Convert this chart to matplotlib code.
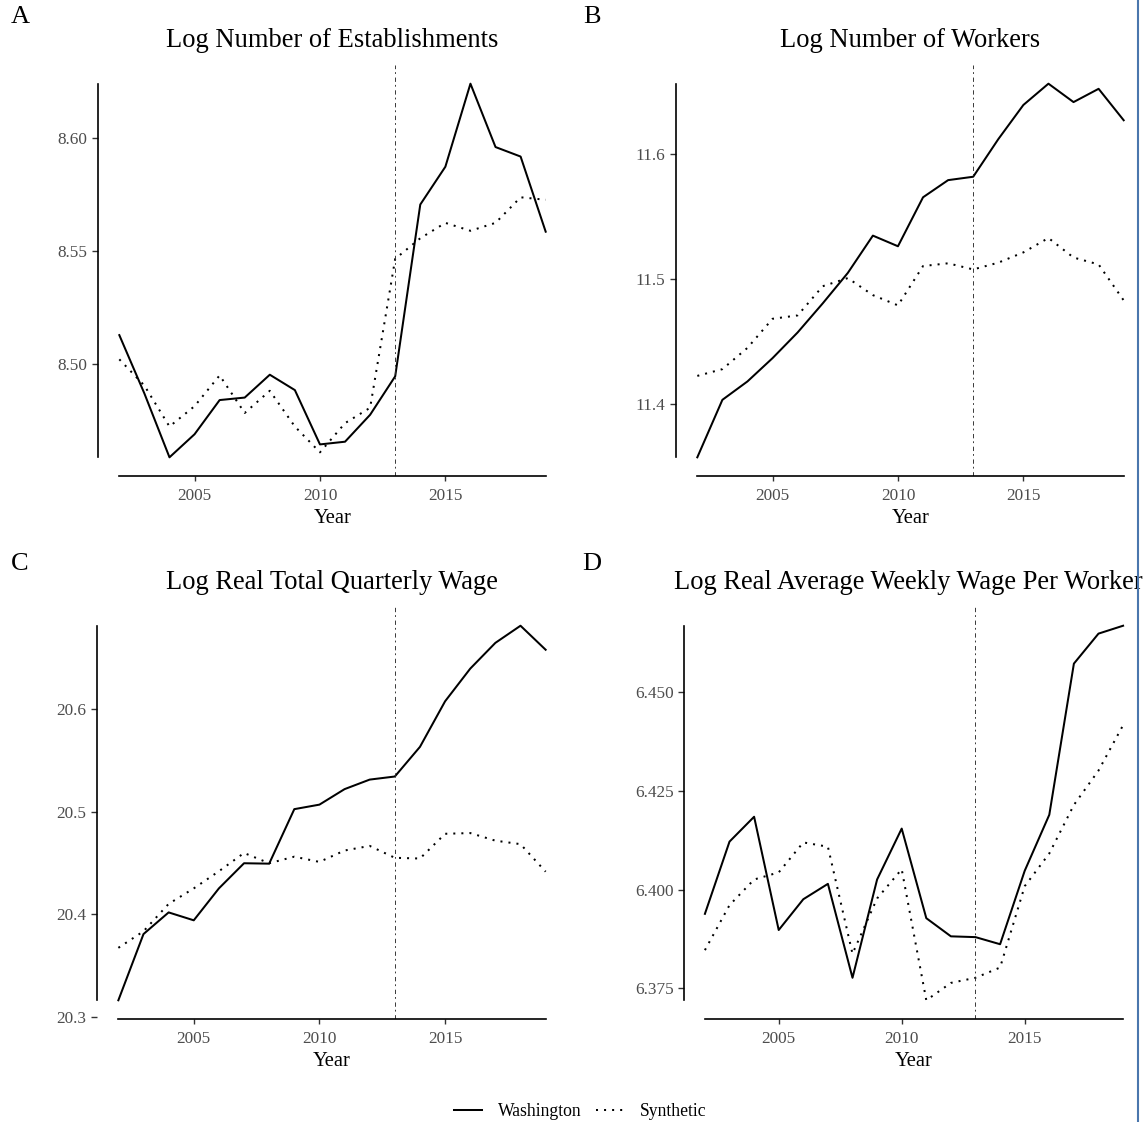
import matplotlib
matplotlib.use("Agg")
import matplotlib.pyplot as plt
from matplotlib.lines import Line2D

plt.rcParams['font.family'] = ['Liberation Serif', 'DejaVu Serif']

# Annual series, 2002-2019
years = list(range(2002, 2020))

# A: log number of establishments
estab_wa = [8.5128, 8.4870, 8.4588, 8.4690, 8.4841, 8.4852, 8.4953, 8.4885, 8.4645,
            8.4657, 8.4776, 8.4946, 8.5705, 8.5872, 8.6239, 8.5959, 8.5917, 8.5585]
estab_syn = [8.5021, 8.4905, 8.4724, 8.4814, 8.4950, 8.4784, 8.4882, 8.4724, 8.4610,
             8.4739, 8.4807, 8.5465, 8.5556, 8.5624, 8.5589, 8.5624, 8.5737, 8.5726]

# B: log number of workers
workers_wa = [11.3577, 11.4036, 11.4183, 11.4369, 11.4574, 11.4806, 11.5049, 11.5347, 11.5262,
              11.5653, 11.5790, 11.5817, 11.6117, 11.6390, 11.6560, 11.6413, 11.6519, 11.6268]
workers_syn = [11.4227, 11.4281, 11.4451, 11.4683, 11.4710, 11.4943, 11.5008, 11.4872, 11.4790,
               11.5104, 11.5126, 11.5077, 11.5131, 11.5213, 11.5328, 11.5172, 11.5117, 11.4830]

# C: log real total quarterly wage
totwage_wa = [20.3161, 20.3806, 20.4017, 20.3940, 20.4251, 20.4496, 20.4492, 20.5023, 20.5067,
              20.5218, 20.5311, 20.5341, 20.5630, 20.6074, 20.6392, 20.6643, 20.6810, 20.6576]
totwage_syn = [20.3672, 20.3833, 20.4100, 20.4251, 20.4418, 20.4596, 20.4496, 20.4560, 20.4509,
               20.4620, 20.4665, 20.4549, 20.4542, 20.4783, 20.4790, 20.4716, 20.4682, 20.4414]

# D: log real average weekly wage per worker
wkwage_wa = [6.3939, 6.4122, 6.4185, 6.3898, 6.3976, 6.4015, 6.3777, 6.4026, 6.4155,
             6.3928, 6.3882, 6.3880, 6.3862, 6.4048, 6.4190, 6.4573, 6.4649, 6.4669]
wkwage_syn = [6.3847, 6.3961, 6.4026, 6.4044, 6.4120, 6.4109, 6.3838, 6.3978, 6.4052,
              6.3720, 6.3764, 6.3777, 6.3803, 6.4009, 6.4092, 6.4215, 6.4302, 6.4417]

titles = ['Log Number of Establishments', 'Log Number of Workers',
          'Log Real Total Quarterly Wage', 'Log Real Average Weekly Wage Per Worker']
tags = ['A', 'B', 'C', 'D']
yticks = [[8.50, 8.55, 8.60], [11.4, 11.5, 11.6],
          [20.3, 20.4, 20.5, 20.6], [6.375, 6.400, 6.425, 6.450]]
ytick_fmt = ['%.2f', '%.1f', '%.1f', '%.3f']
xticks = [2005, 2010, 2015]
treat_year = 2013

series = [(estab_wa, estab_syn), (workers_wa, workers_syn),
          (totwage_wa, totwage_syn), (wkwage_wa, wkwage_syn)]

W, H = 1145, 1122
fig = plt.figure(figsize=(W / 100, H / 100), dpi=100)

# panel boxes in pixels: left, right, top, bottom
boxes = [(98, 567, 65, 476), (676, 1145, 65, 476),
         (97, 567, 607, 1019), (684, 1144, 607, 1019)]
tag_pos = [(20, 17), (592, 17), (20, 564), (592, 564)]
# the long D title is nudged left so it stays on the page
title_x = [0.5, 0.5, 0.5, 0.488]

solid_style = dict(color='black', lw=1.45, linestyle='-')
dot_style = dict(color='black', lw=1.45, linestyle=(0, (1, 3)))
vline_style = dict(color='#2b2b2b', lw=0.65, linestyle=(0, (4.8, 4, 2, 3.3)))

for i, (wa, syn) in enumerate(series):
    l, r, t, b = boxes[i]
    ax = fig.add_axes([l / W, 1 - b / H, (r - l) / W, (b - t) / H])
    ax.plot(years, wa, **solid_style)
    ax.plot(years, syn, **dot_style)
    ax.axvline(treat_year, **vline_style)

    lo = min(min(wa), min(syn))
    hi = max(max(wa), max(syn))
    pad = 0.05 * (hi - lo)
    ax.set_ylim(lo - pad, hi + pad)
    xpad = 0.05 * (years[-1] - years[0])
    ax.set_xlim(years[0] - xpad, years[-1] + xpad)

    for side in ['top', 'right']:
        ax.spines[side].set_visible(False)
    ax.spines['left'].set_bounds(lo, hi)
    ax.spines['bottom'].set_bounds(years[0], years[-1])
    for side in ['left', 'bottom']:
        ax.spines[side].set_linewidth(1.2)

    ax.set_yticks(yticks[i])
    ax.set_yticklabels([ytick_fmt[i] % v for v in yticks[i]])
    ax.set_xticks(xticks)
    ax.tick_params(axis='both', labelsize=12.4, labelcolor='#4D4D4D',
                   color='#333333', width=1.0)
    ax.tick_params(axis='x', length=3.5, pad=5)
    ax.tick_params(axis='y', length=4.5, pad=3)
    ax.set_xlabel('Year', fontsize=14.8, labelpad=3.5)
    ax.set_title(titles[i], fontsize=19.1, pad=13, x=title_x[i])
    ax.patch.set_visible(False)

    fig.text(tag_pos[i][0] / W, 1 - tag_pos[i][1] / H, tags[i],
             fontsize=19, ha='center', va='center')

handles = [Line2D([], [], **solid_style), Line2D([], [], **dot_style)]
fig.legend(handles, ['Washington', 'Synthetic'], loc='center',
           bbox_to_anchor=(580 / W, 1 - 1112 / H), ncol=2, frameon=False,
           fontsize=12.7, handlelength=1.6, handletextpad=0.9, columnspacing=0.8)

# page edge rule on the right
fig.add_artist(Line2D([1138 / W, 1138 / W], [0, 1], transform=fig.transFigure,
                      color='#4A76AD', lw=1.5))

fig.savefig('out.png', dpi=100)
